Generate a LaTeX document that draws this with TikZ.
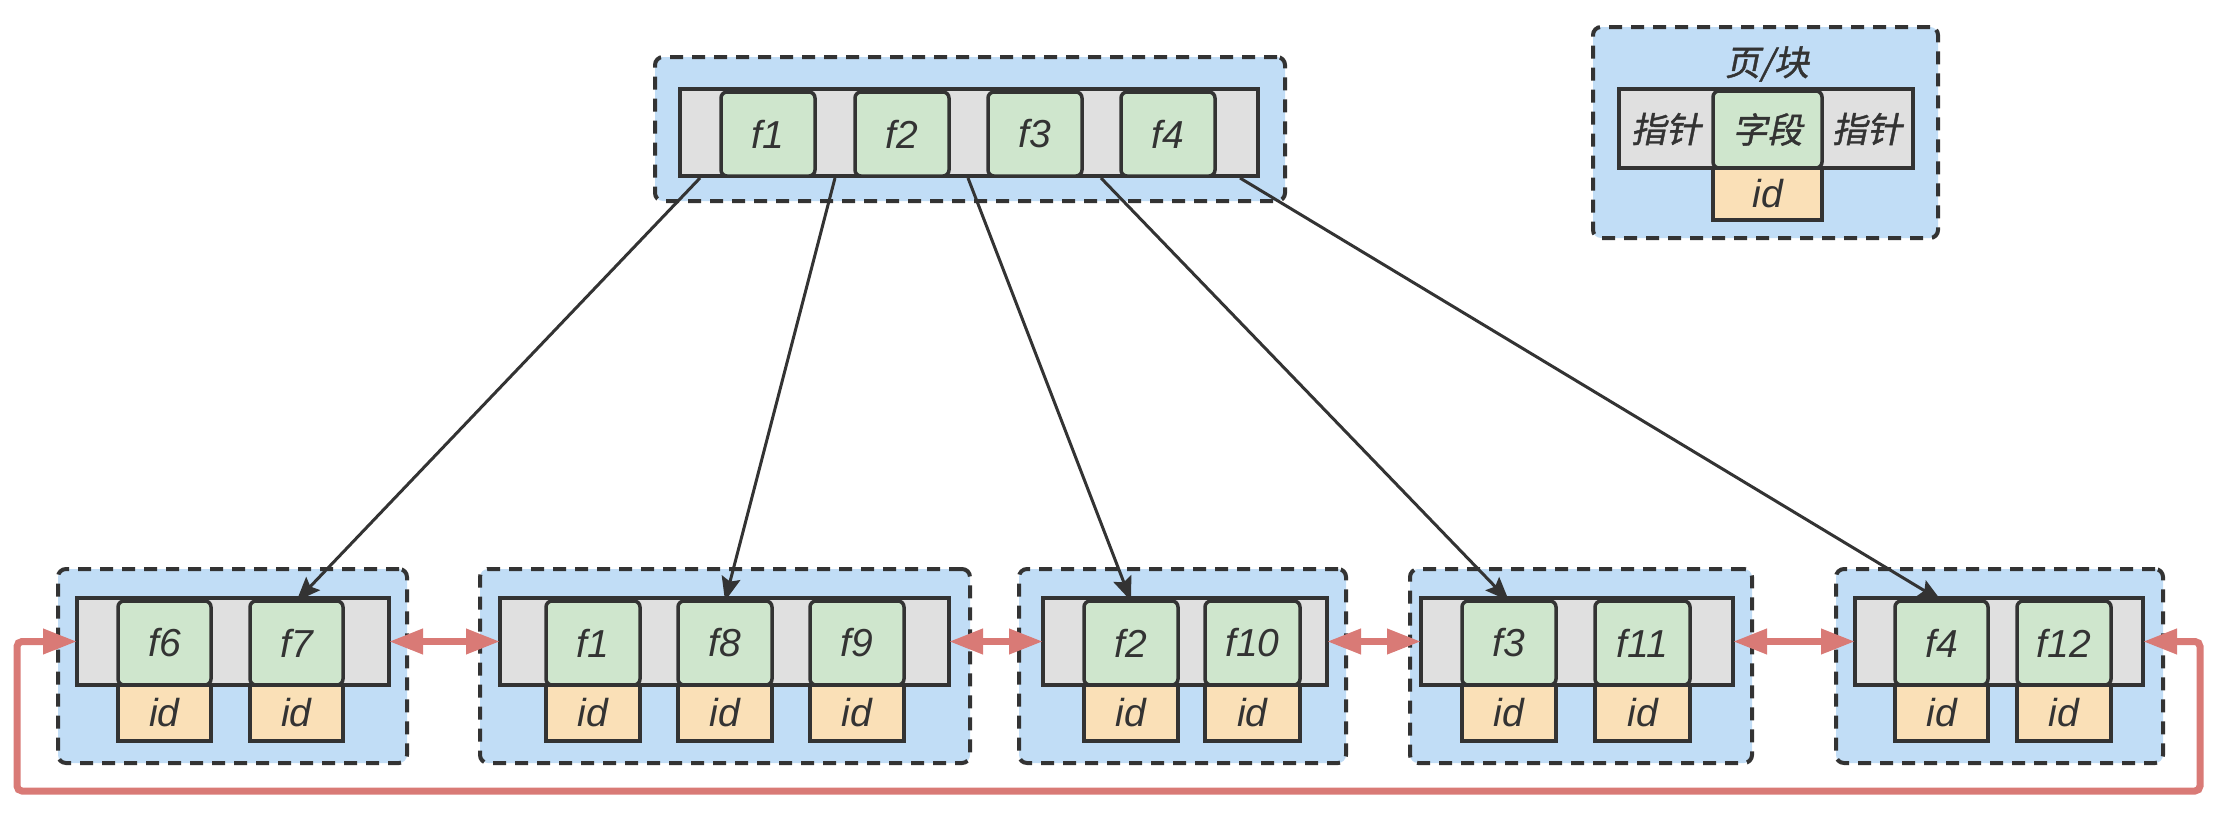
\documentclass[tikz,border=0pt]{standalone}
\usepackage{fontspec}
\setmainfont{Liberation Sans}
\newfontfamily\cjk[FakeSlant=0.2,FakeBold=1.2]{Noto Sans CJK SC}
\usetikzlibrary{arrows.meta}
\definecolor{dk}{RGB}{51,51,51}
\definecolor{bluef}{RGB}{193,221,246}
\definecolor{grayf}{RGB}{224,224,224}
\definecolor{greenf}{RGB}{207,230,205}
\definecolor{orangef}{RGB}{250,224,183}
\definecolor{redc}{RGB}{217,122,118}
\newcommand\lbl{\fontsize{39}{44}\selectfont\itshape\color{dk}}
\newcommand\cjklbl{\fontsize{35}{40}\selectfont\cjk\color{dk}}
\tikzset{
  rect/.style n args={4}{at={({(#1+#3)/2},{(#2+#4)/2})}, minimum width={(#3-#1)*1pt}, minimum height={(#4-#2)*1pt}, inner sep=0pt, outer sep=0pt},
  page/.style={draw=dk, line width=4pt, dash pattern=on 13pt off 9pt, fill=bluef, rounded corners=8pt},
  bar/.style={draw=dk, line width=4pt, fill=grayf},
  fld/.style={draw=dk, line width=3.5pt, fill=greenf, rounded corners=6pt, font=\lbl},
  idb/.style={draw=dk, line width=3.5pt, fill=orangef, font=\lbl},
  link/.style={draw=dk, line width=3pt, -{Stealth[length=24pt,width=19pt,inset=4pt]}},
  dbl/.style={draw=redc, line width=7pt, {Triangle[length=34pt,width=24pt]}-{Triangle[length=34pt,width=24pt]}},
}
\begin{document}
\begin{tikzpicture}[x=1pt,y=-1pt]
\useasboundingbox (0,0) rectangle (2222,814);
% ---------- top page ----------
\node[page, rect={655}{57}{1285}{201}] (top) {};
\node[bar, rect={680}{89}{1258}{176}] (tg) {};
\node[fld, rect={721}{92}{815}{176}] (tf1) {f1};
\node[fld, rect={855}{92}{949}{176}] (tf2) {f2};
\node[fld, rect={988}{92}{1082}{176}] (tf3) {f3};
\node[fld, rect={1121}{92}{1215}{176}] (tf4) {f4};
\coordinate (tp1) at (700,178);
\coordinate (tp2) at (835,178);
\coordinate (tp3) at (968,178);
\coordinate (tp4) at (1101,178);
\coordinate (tp5) at (1240,178);
% ---------- legend ----------
\node[page, rect={1593}{27}{1938}{238}] (leg) {};
\node[font=\cjklbl] (legt) at (1767,64) {页/块};
\node[bar, rect={1619}{89}{1913}{168}] (lg) {};
\node[fld, font=\cjklbl, rect={1713}{91}{1822}{168}] (lf) {字段};
\node[font=\cjklbl] (lp1) at (1666,129) {指针};
\node[font=\cjklbl] (lp2) at (1867,129) {指针};
\node[idb, rect={1713}{168}{1822}{220}] (lid) {id};
% ---------- bottom page 1 ----------
\node[page, rect={58}{569}{407}{763}] (b1) {};
\node[bar, rect={77}{598}{389}{685}] (g1) {};
\node[fld, rect={118}{601}{211}{685}] (f6) {f6};
\node[fld, rect={250}{601}{343}{685}] (f7) {f7};
\node[idb, rect={118}{685}{211}{741}] (i6) {id};
\node[idb, rect={250}{685}{343}{741}] (i7) {id};
% ---------- bottom page 2 ----------
\node[page, rect={480}{569}{970}{763}] (b2) {};
\node[bar, rect={500}{598}{949}{685}] (g2) {};
\node[fld, rect={546}{601}{640}{685}] (f1) {f1};
\node[fld, rect={678}{601}{772}{685}] (f8) {f8};
\node[fld, rect={810}{601}{904}{685}] (f9) {f9};
\node[idb, rect={546}{685}{640}{741}] (i1) {id};
\node[idb, rect={678}{685}{772}{741}] (i8) {id};
\node[idb, rect={810}{685}{904}{741}] (i9) {id};
% ---------- bottom page 3 ----------
\node[page, rect={1019}{569}{1346}{763}] (b3) {};
\node[bar, rect={1043}{598}{1327}{685}] (g3) {};
\node[fld, rect={1084}{601}{1178}{685}] (f2) {f2};
\node[fld, rect={1205}{601}{1300}{685}] (f10) {f10};
\node[idb, rect={1084}{685}{1178}{741}] (i2) {id};
\node[idb, rect={1205}{685}{1300}{741}] (i10) {id};
% ---------- bottom page 4 ----------
\node[page, rect={1410}{569}{1752}{763}] (b4) {};
\node[bar, rect={1421}{598}{1733}{685}] (g4) {};
\node[fld, rect={1462}{601}{1556}{685}] (f3) {f3};
\node[fld, rect={1595}{601}{1690}{685}] (f11) {f11};
\node[idb, rect={1462}{685}{1556}{741}] (i3) {id};
\node[idb, rect={1595}{685}{1690}{741}] (i11) {id};
% ---------- bottom page 5 ----------
\node[page, rect={1836}{569}{2163}{763}] (b5) {};
\node[bar, rect={1855}{598}{2143}{685}] (g5) {};
\node[fld, rect={1895}{601}{1988}{685}] (f4) {f4};
\node[fld, rect={2017}{601}{2111}{685}] (f12) {f12};
\node[idb, rect={1895}{685}{1988}{741}] (i4) {id};
\node[idb, rect={2017}{685}{2111}{741}] (i12) {id};
% ---------- tree links ----------
\draw[link] (tp1) -- (f7.north);
\draw[link] (tp2) -- (f8.north);
\draw[link] (tp3) -- (f2.north);
\draw[link] (tp4) -- (f3.north);
\draw[link] (tp5) -- (f4.north);
% ---------- sibling links ----------
\draw[dbl] (g1.east) -- (g2.west);
\draw[dbl] (g2.east) -- (g3.west);
\draw[dbl] (g3.east) -- (g4.west);
\draw[dbl] (g4.east) -- (g5.west);
\coordinate (lr) at (2200,791);
\coordinate (ll) at (17,791);
\draw[dbl, rounded corners=5pt] (g5.east) -| (lr) -- (ll) |- (g1.west);
\end{tikzpicture}
\end{document}
